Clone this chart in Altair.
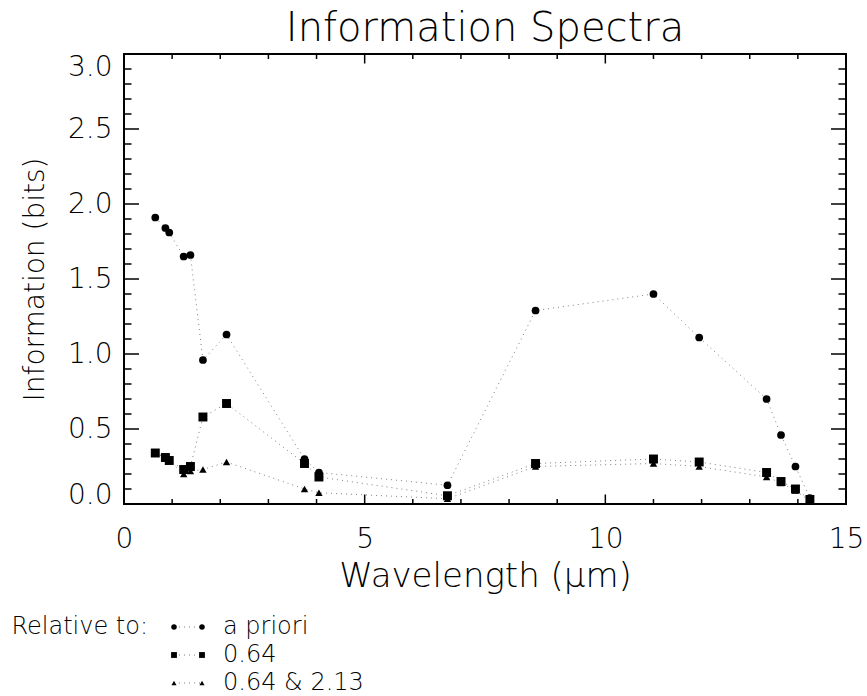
import altair as alt
import pandas as pd

# Channel centre wavelengths (micrometres) and information content (bits)
wavelength = [0.65, 0.86, 0.94, 1.24, 1.38, 1.64, 2.13, 3.75, 4.05, 6.72,
              8.55, 11.0, 11.95, 13.35, 13.65, 13.95, 14.25]
info_apriori = [1.91, 1.84, 1.81, 1.65, 1.66, 0.96, 1.13, 0.30, 0.21, 0.125,
                1.29, 1.40, 1.11, 0.70, 0.46, 0.25, 0.04]
info_rel_064 = [0.34, 0.31, 0.29, 0.23, 0.25, 0.58, 0.67, 0.27, 0.18, 0.055,
                0.27, 0.30, 0.28, 0.21, 0.15, 0.10, 0.03]
info_rel_064_213 = [0.34, 0.31, 0.29, 0.20, 0.22, 0.23, 0.28, 0.10, 0.075, 0.035,
                    0.25, 0.27, 0.25, 0.18, 0.14, 0.09, 0.02]

legend_labels = ["a priori", "0.64", "0.64 & 2.13"]

x_major_ticks = [0, 5, 10, 15]
x_minor_ticks = [1, 2, 3, 4, 6, 7, 8, 9, 11, 12, 13, 14]
y_major_ticks = [0.0, 0.5, 1.0, 1.5, 2.0, 2.5, 3.0]
y_minor_ticks = [0.1, 0.2, 0.3, 0.4, 0.6, 0.7, 0.8, 0.9, 1.1, 1.2, 1.3, 1.4,
                 1.6, 1.7, 1.8, 1.9, 2.1, 2.2, 2.3, 2.4, 2.6, 2.7, 2.8, 2.9]

W, H = 722, 450
FONT = "DejaVu Sans"
WEIGHT = 200
DOT_LINE = dict(color="#808080", strokeDash=[1, 4], strokeWidth=1)

df = pd.DataFrame({
    "wavelength": wavelength,
    "apriori": info_apriori,
    "rel064": info_rel_064,
    "rel064213": info_rel_064_213,
})

xs = alt.Scale(domain=[0, 15], nice=False, zero=False)
ys = alt.Scale(domain=[0, 3], nice=False, zero=False)

# One axis definition shared by every layer so that the merged axes agree
AX = alt.Axis(values=x_major_ticks, format="d", title="Wavelength (μm)",
              ticks=False, tickSize=0, domain=False, grid=False,
              labelPadding=35, labelBaseline="middle", labelFlush=False,
              titleY=72, titleBaseline="middle", titleFontSize=34)
AY = alt.Axis(values=y_major_ticks, format=".1f", title="Information (bits)",
              ticks=False, tickSize=0, domain=False, grid=False,
              labelPadding=12,
              labelOffset={"condition": [
                  {"test": "datum.value == 3", "value": 13},
                  {"test": "datum.value == 0", "value": -9}],
                  "value": 0},
              titleX=-89, titleY=H / 2, titleAngle=-90, titleFontSize=28,
              titleBaseline="middle", titleAlign="center")

X = alt.X("wavelength:Q", scale=xs, axis=AX)


def Y(col):
    return alt.Y(f"{col}:Q", scale=ys, axis=AY)


base = alt.Chart(df)

lines = [base.mark_line(**DOT_LINE).encode(x=X, y=Y(col))
         for col in ["rel064213", "rel064", "apriori"]]

triangles = base.mark_point(shape="triangle-up", filled=True, size=55, color="black",
                            opacity=1).encode(x=X, y=Y("rel064213"))
squares = base.mark_square(size=80, color="black", opacity=1).encode(x=X, y=Y("rel064"))
circles = base.mark_circle(size=60, color="black", opacity=1).encode(x=X, y=Y("apriori"))


def tick_layer(values, orient, length):
    d = alt.Chart(pd.DataFrame({"v": values})).mark_rule(color="black", strokeWidth=1.5)
    if orient in ("bottom", "top"):
        xe = alt.X("v:Q", scale=xs, axis=AX)
        if orient == "bottom":
            return d.encode(x=xe, y=alt.value(H), y2=alt.value(H - length))
        return d.encode(x=xe, y=alt.value(0), y2=alt.value(length))
    ye = alt.Y("v:Q", scale=ys, axis=AY)
    if orient == "left":
        return d.encode(y=ye, x=alt.value(0), x2=alt.value(length))
    return d.encode(y=ye, x=alt.value(W), x2=alt.value(W - length))


ticks = []
for side in ("bottom", "top"):
    ticks.append(tick_layer(x_major_ticks, side, 9.5))
    ticks.append(tick_layer(x_minor_ticks, side, 5))
for side in ("left", "right"):
    ticks.append(tick_layer(y_major_ticks, side, 15))
    ticks.append(tick_layer(y_minor_ticks, side, 7.5))

main = alt.layer(*lines, triangles, squares, circles, *ticks)

# Hand-built key below the plot: two symbols joined by a dotted line per series
key_df = pd.DataFrame({
    "label": [lab for lab in legend_labels for _ in (0, 1)],
    "slot": [s for _ in legend_labels for s in (0, 1)],
})
kx = alt.Scale(domain=[0, 1], range=[50, 78])
ky = alt.Scale(type="point", domain=legend_labels, range=[H + 123, H + 179], padding=0)
KX = alt.X("slot:Q", scale=kx, axis=None)
KY = alt.Y("label:N", scale=ky, axis=None)
kbase = alt.Chart(key_df)

key_line = kbase.mark_line(**DOT_LINE).encode(x=KX, y=KY, detail="label:N")
key_circ = kbase.transform_filter(alt.datum.label == legend_labels[0]).mark_circle(
    size=30, color="black", opacity=1).encode(x=KX, y=KY)
key_sq = kbase.transform_filter(alt.datum.label == legend_labels[1]).mark_square(
    size=34, color="black", opacity=1).encode(x=KX, y=KY)
key_tri = kbase.transform_filter(alt.datum.label == legend_labels[2]).mark_point(
    shape="triangle-up", filled=True, size=26, color="black", opacity=1).encode(x=KX, y=KY)
key_text = kbase.transform_filter(alt.datum.slot == 1).mark_text(
    align="left", baseline="middle", dx=21, fontSize=24, font=FONT,
    fontWeight=WEIGHT, color="black").encode(x=KX, y=KY, text="label:N")
key_head = kbase.transform_filter(
    (alt.datum.slot == 0) & (alt.datum.label == legend_labels[0])).mark_text(
    align="right", baseline="middle", dx=-26, fontSize=24, font=FONT,
    fontWeight=WEIGHT, color="black", text="Relative to:").encode(x=KX, y=KY)

key = alt.layer(key_line, key_circ, key_sq, key_tri, key_text, key_head)

chart = alt.layer(main, key).resolve_scale(
    x="independent", y="independent"
).properties(
    width=W,
    height=H,
    title=alt.TitleParams("Information Spectra", fontSize=40, font=FONT,
                          fontWeight=WEIGHT, color="black", anchor="middle",
                          frame="group", offset=4),
    padding={"left": 124, "top": 54, "right": 21, "bottom": 192},
    autosize=alt.AutoSizeParams(type="none"),
).configure_view(
    stroke="black", strokeWidth=2
).configure_axis(
    labelFont=FONT, labelFontSize=28, labelFontWeight=WEIGHT, labelColor="black",
    titleFont=FONT, titleFontWeight=WEIGHT, titleColor="black",
)

chart.save("out.html", embed_options={"renderer": "svg", "actions": False})
